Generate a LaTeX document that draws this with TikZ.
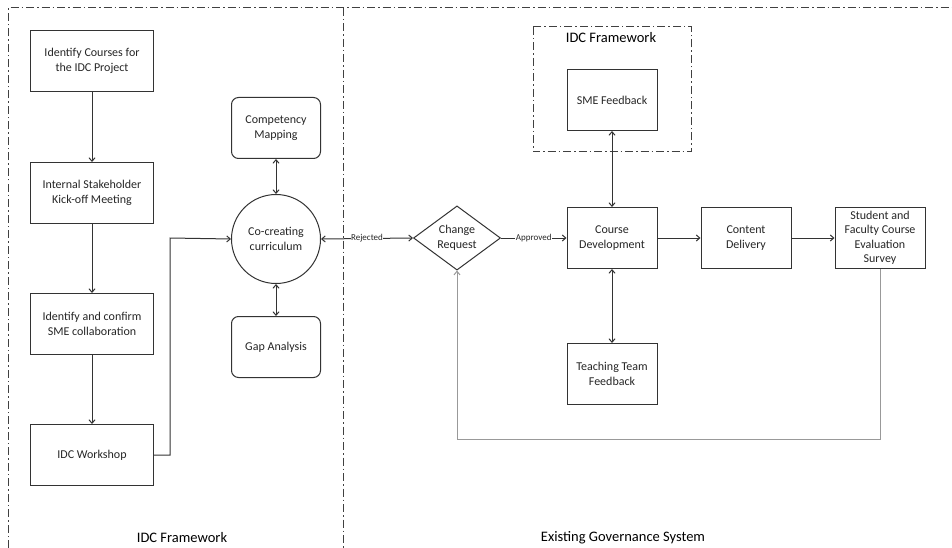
\documentclass[tikz,border=0pt]{standalone}
\usepackage{fontspec}
\setmainfont{Carlito}
\usetikzlibrary{arrows.meta,shapes.geometric}
\begin{document}
\begin{tikzpicture}[x=1pt,y=-1pt,
  every node/.style={font=\fontsize{12}{14.5}\selectfont, text=black!85},
  sqbox/.style={draw=black!80, line width=1pt, minimum width=123pt, minimum height=61pt, align=center, inner sep=2pt},
  smbox/.style={draw=black!80, line width=1pt, minimum width=90pt, minimum height=61pt, align=center, inner sep=2pt},
  rbox/.style={smbox, rounded corners=7pt, minimum width=89pt},
  circ/.style={draw=black!80, line width=1pt, circle, minimum size=89pt, align=center, inner sep=0pt},
  dmd/.style={draw=black!80, line width=1pt, diamond, minimum width=87pt, minimum height=59pt, align=center, inner sep=0pt},
  conn/.style={draw=black!80, line width=1pt, -{Straight Barb[length=3.5pt,width=6pt]}},
  biconn/.style={draw=black!80, line width=1pt, {Straight Barb[length=3.5pt,width=6pt]}-{Straight Barb[length=3.5pt,width=6pt]}},
  grayconn/.style={draw=black!40, line width=1pt, -{Straight Barb[length=3.5pt,width=6pt]}},
  dashdot/.style={draw=black!75, line width=1pt, dash pattern=on 8pt off 3pt on 1.5pt off 3pt},
  lbl/.style={font=\fontsize{9}{10}\selectfont, fill=white, inner sep=0.5pt},
  title/.style={font=\fontsize{14.5}{16}\selectfont, text=black}
]
\useasboundingbox (0,0) rectangle (952,548);
\fill[white] (0,0) rectangle (952,548);

% frame
\draw[dashdot] (8,548) -- (8,8) -- (952,8);
\draw[dashdot] (343,8) -- (343,548);
\draw[dashdot] (533,27) rectangle (691,152);

% left column
\node[sqbox] (a1) at (92,61) {Identify Courses for\\the IDC Project};
\node[sqbox] (a2) at (92,193) {Internal Stakeholder\\Kick-off Meeting};
\node[sqbox] (a3) at (92,324) {Identify and confirm\\SME collaboration};
\node[sqbox] (a4) at (92,455) {IDC Workshop};

\node[rbox] (cm) at (276,128) {Competency\\Mapping};
\node[circ] (cc) at (276,239) {Co-creating\\curriculum};
\node[rbox] (ga) at (276,347) {Gap Analysis};

% right part
\node[title] (t1) at (611,38) {IDC Framework};
\node[smbox] (sme) at (612,100) {SME Feedback};
\node[dmd] (cr) at (457,238) {Change\\Request};
\node[smbox] (cd) at (612,238) {Course\\Development};
\node[smbox] (tt) at (612,374) {Teaching Team\\Feedback};
\node[smbox] (del) at (746,238) {Content\\Delivery};
\node[smbox, inner sep=0pt, font=\fontsize{12}{14.5}\selectfont] (sf) at (880,238) {Student and\\Faculty Course\\Evaluation\\Survey};

\node[title] (t2) at (182,538) {IDC Framework};
\node[title] (t3) at (623,538) {Existing Governance System};

\coordinate (w1) at (170,455);
\coordinate (w2) at (170,238);
\coordinate (f1) at (880,439);
\coordinate (f2) at (457,439);

% connectors
\draw[conn] (a1) -- (a2);
\draw[conn] (a2) -- (a3);
\draw[conn] (a3) -- (a4);
\draw[conn] (a4.east) -- (w1) -- (w2) -- (cc.west);
\draw[biconn] (cm) -- (cc);
\draw[biconn] (cc) -- (ga);
\draw[biconn] (cc.east) -- node[lbl] {Rejected} (cr.west);
\draw[conn] (cr.east) -- node[lbl] {Approved} (cd.west);
\draw[biconn] (sme) -- (cd);
\draw[biconn] (cd) -- (tt);
\draw[conn] (cd) -- (del);
\draw[conn] (del) -- (sf);
\draw[grayconn] (sf.south) -- (f1) -- (f2) -- (cr.south);
\end{tikzpicture}
\end{document}
